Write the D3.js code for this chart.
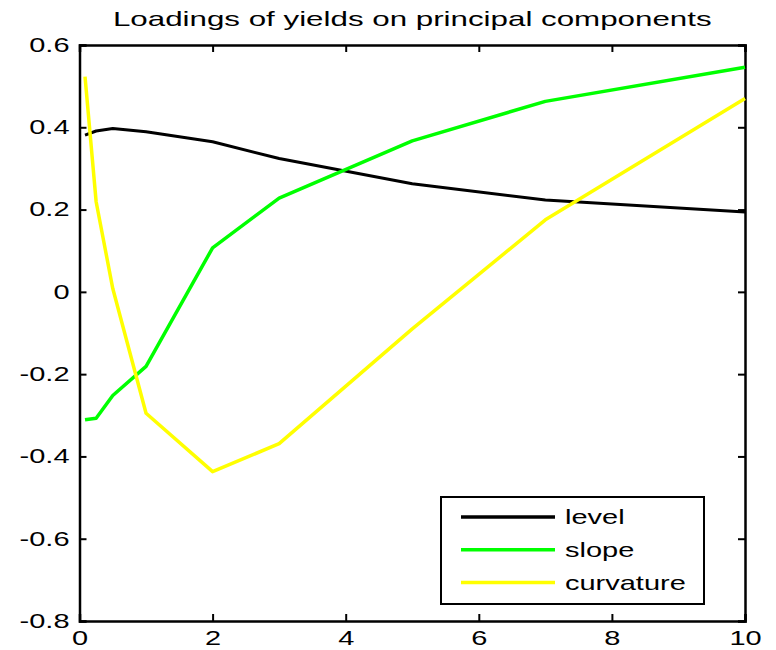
<!DOCTYPE html>
<html>
<head>
<meta charset="utf-8">
<script src="https://cdn.jsdelivr.net/npm/d3@7"></script>
<style>
  body { margin: 0; background: #fff; }
  text { font-family: "Liberation Sans", Arial, sans-serif; fill: #000; }
</style>
</head>
<body>
<div id="chart"></div>
<script>
// maturities in years
const maturities = [0.083, 0.25, 0.5, 1, 2, 3, 5, 7, 10];
const level = [0.381, 0.391, 0.397, 0.389, 0.365, 0.324, 0.263, 0.223, 0.194];
const slope = [-0.311, -0.307, -0.252, -0.181, 0.107, 0.228, 0.367, 0.463, 0.546];
const curvature = [0.523, 0.219, 0.008, -0.295, -0.437, -0.369, -0.09, 0.175, 0.470];

const seriesNames = ["level", "slope", "curvature"];
const seriesColors = ["#000000", "#00ff00", "#ffff00"];
const xTicks = [0, 2, 4, 6, 8, 10];
const yTicks = [-0.8, -0.6, -0.4, -0.2, 0, 0.2, 0.4, 0.6];

const W = 776, H = 650;
let margin = { top: 45, right: 31, bottom: 29, left: 79.5 },
    width = W - margin.left - margin.right,
    height = H - margin.top - margin.bottom;

const sx = 1.45; // the picture is stretched horizontally

const svg = d3.select("#chart").append("svg")
    .attr("width", W)
    .attr("height", H);

const g = svg.append("g")
    .attr("transform", `translate(${margin.left},${margin.top})`);

const x = d3.scaleLinear().domain([0, 10]).range([0, width]);
const y = d3.scaleLinear().domain([-0.8, 0.6]).range([height, 0]);

function stretchText(sel) {
    sel.each(function() {
        const t = d3.select(this);
        const tx = +t.attr("x") || 0;
        t.attr("x", tx / sx).attr("transform", `scale(${sx},1)`);
    });
}

// axes, MATLAB style box with inward ticks
const fmt = d => d === 0 ? "0" : d3.format(".1f")(d).replace("\u2212", "-");

g.append("g")
    .attr("transform", `translate(0,${height})`)
    .call(d3.axisBottom(x).tickValues(xTicks).tickSize(-7).tickPadding(8).tickFormat(d3.format("d")))
    .call(a => a.selectAll("text").attr("dy", "0.78em"));

g.append("g")
    .call(d3.axisLeft(y).tickValues(yTicks).tickSize(-7).tickPadding(10).tickFormat(fmt));

g.append("g")
    .call(d3.axisTop(x).tickValues(xTicks).tickSize(-7).tickFormat(""));

g.append("g")
    .attr("transform", `translate(${width},0)`)
    .call(d3.axisRight(y).tickValues(yTicks).tickSize(-7).tickFormat(""));

g.selectAll(".domain").attr("stroke", "#000").attr("stroke-width", 2.5);
g.selectAll(".tick line").attr("stroke", "#000").attr("stroke-width", 2);
g.selectAll(".tick text")
    .style("font-size", "20px")
    .attr("fill", "#000")
    .call(stretchText);

// lines
const series = [level, slope, curvature];
const line = d3.line()
    .x((d, i) => x(maturities[i]))
    .y(d => y(d));

g.append("g")
    .selectAll("path")
    .data(series)
    .join("path")
    .attr("fill", "none")
    .attr("stroke", (d, i) => seriesColors[i])
    .attr("stroke-width", (d, i) => i === 0 ? 3 : 3.5)
    .attr("stroke-linejoin", "round")
    .attr("d", line);

// title
svg.append("text")
    .attr("transform", `translate(${margin.left + width / 2},26) scale(${sx * 1.08},1)`)
    .attr("text-anchor", "middle")
    .style("font-size", "20px")
    .text("Loadings of yields on principal components");

// legend
const legend = svg.append("g").attr("transform", "translate(441,497)");
legend.append("rect")
    .attr("width", 263)
    .attr("height", 107)
    .attr("fill", "#fff")
    .attr("stroke", "#000")
    .attr("stroke-width", 2);

const rows = legend.selectAll("g.row")
    .data(seriesNames)
    .join("g")
    .attr("class", "row")
    .attr("transform", (d, i) => `translate(0,${20 + i * 32.8})`);

rows.append("line")
    .attr("x1", 20).attr("x2", 114)
    .attr("stroke", (d, i) => seriesColors[i])
    .attr("stroke-width", 3.5);

rows.append("text")
    .attr("transform", `translate(124,0) scale(${sx},1)`)
    .attr("dy", "0.35em")
    .style("font-size", "20px")
    .text(d => d);
</script>
</body>
</html>
